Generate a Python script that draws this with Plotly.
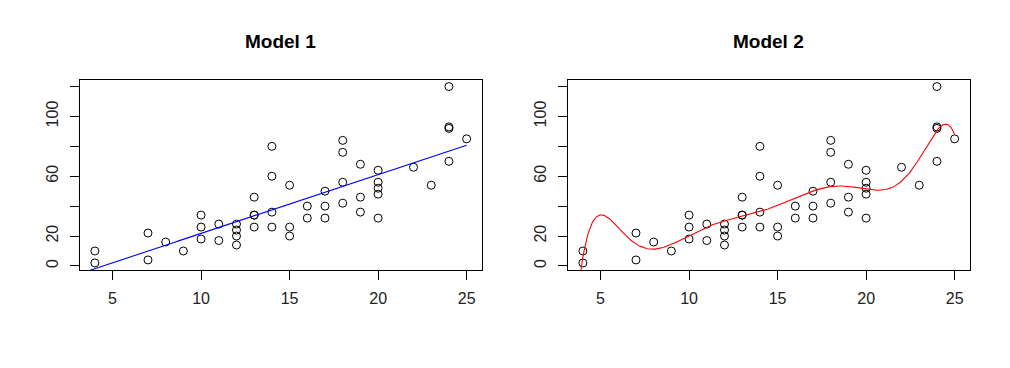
import numpy as np
import plotly.graph_objects as go

speed = [4, 4, 7, 7, 8, 9, 10, 10, 10, 11, 11, 12, 12, 12, 12, 13, 13, 13, 13, 14, 14, 14, 14,
         15, 15, 15, 16, 16, 17, 17, 17, 18, 18, 18, 18, 19, 19, 19, 20, 20, 20, 20, 20,
         22, 23, 24, 24, 24, 24, 25]
dist = [2, 10, 4, 22, 16, 10, 18, 26, 34, 17, 28, 14, 20, 24, 28, 26, 34, 34, 46, 26, 36, 60, 80,
        20, 26, 54, 32, 40, 32, 40, 50, 42, 56, 76, 84, 36, 46, 68, 32, 48, 52, 56, 64,
        66, 54, 70, 92, 93, 120, 85]
titles = ["Model 1", "Model 2"]
x_ticks = [5, 10, 15, 20, 25]
y_ticks = [0, 20, 40, 60, 80, 100, 120]
y_ticktext = ["0", "20", "", "60", "", "100", ""]

sx = np.array(speed, float)
sy = np.array(dist, float)
xlo, xhi = sx.min() - 0.04 * (sx.max() - sx.min()), sx.max() + 0.04 * (sx.max() - sx.min())
ylo, yhi = sy.min() - 0.04 * (sy.max() - sy.min()), sy.max() + 0.04 * (sy.max() - sy.min())

grid = np.linspace(xlo, sx.max(), 400)
lin = np.polynomial.Polynomial.fit(sx, sy, 1)
poly8 = np.polynomial.Polynomial.fit(sx, sy, 8)

fig = go.Figure()
W, H = 1010, 368
OFF = 8  # page body margin
dom = [[(80 - OFF) / W, (481.5 - OFF) / W], [(568 - OFF) / W, (969.5 - OFF) / W]]
ydom = [1 - (270 - OFF) / H, 1 - (79.5 - OFF) / H]

fits = [(lin, "#0000FF"), (poly8, "#FF0000")]
for i, (model, col) in enumerate(fits):
    xa = "x" if i == 0 else "x2"
    ya = "y" if i == 0 else "y2"
    fig.add_trace(go.Scatter(x=speed, y=dist, mode="markers", xaxis=xa, yaxis=ya,
                             marker=dict(symbol="circle-open", size=8, color="black",
                                         line=dict(width=1, color="black")),
                             hoverinfo="x+y"))
    fig.add_trace(go.Scatter(x=grid, y=model(grid), mode="lines", xaxis=xa, yaxis=ya,
                             line=dict(color=col, width=1.1), hoverinfo="skip"))

axis_common = dict(showline=True, mirror=True, linecolor="black", linewidth=1,
                   showgrid=False, zeroline=False, ticks="outside", ticklen=9,
                   tickcolor="black", tickwidth=1,
                   tickfont=dict(family="Liberation Sans, Arial", size=16, color="#222"))
layout = dict(width=W, height=H, margin=dict(l=0, r=0, t=0, b=0),
              paper_bgcolor="white", plot_bgcolor="white", showlegend=False)
for i in range(2):
    sfx = "" if i == 0 else "2"
    layout["xaxis" + sfx] = dict(domain=dom[i], range=[xlo, xhi], tickvals=x_ticks,
                                 anchor="y" + sfx, ticklabelstandoff=5, **axis_common)
    layout["yaxis" + sfx] = dict(domain=ydom, range=[ylo, yhi], tickvals=y_ticks,
                                 ticktext=y_ticktext, tickangle=-90, ticklabelstandoff=6,
                                 anchor="x" + sfx, **axis_common)
fig.update_layout(**layout)
for i in range(2):
    fig.add_annotation(text="<b>" + titles[i] + "</b>", xref="paper", yref="paper",
                       x=(dom[i][0] + dom[i][1]) / 2, y=1 - (42 - OFF) / H, xanchor="center",
                       yanchor="middle", showarrow=False,
                       font=dict(family="Liberation Sans, Arial", size=19, color="black"))
fig.write_html("out.html")
